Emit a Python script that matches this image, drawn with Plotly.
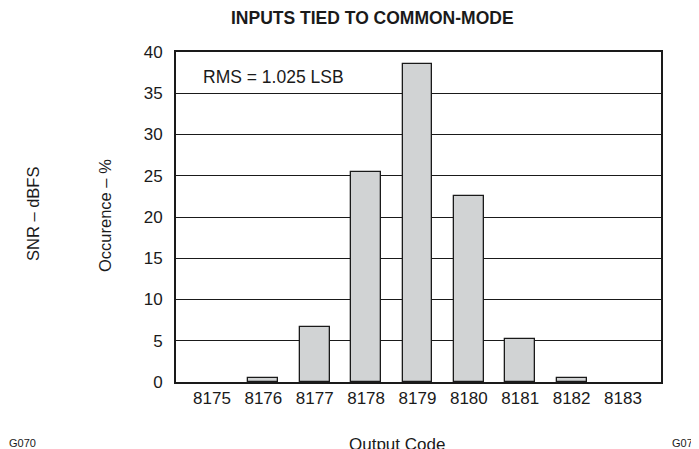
import plotly.graph_objects as go

codes = [8175, 8176, 8177, 8178, 8179, 8180, 8181, 8182, 8183]
occurrence = [0, 0.5, 6.7, 25.4, 38.6, 22.6, 5.2, 0.5, 0]
y_ticks = [0, 5, 10, 15, 20, 25, 30, 35, 40]

FONT = "Liberation Sans, Arial, sans-serif"
W, H = 699, 449
L, R, T, B = 168, 46, 44, 75

fig = go.Figure()
fig.add_trace(go.Bar(
    x=codes, y=occurrence, width=0.58,
    marker=dict(color="#d1d3d4",
                line=dict(color="#1a1a1a", width=[1.3 if v > 0 else 0 for v in occurrence])),
    showlegend=False,
))

fig.update_layout(
    width=W, height=H,
    margin=dict(l=L, r=R, t=T, b=B),
    paper_bgcolor="white", plot_bgcolor="white",
    font=dict(family=FONT, size=17, color="#1a1a1a"),
    bargap=0,
    xaxis=dict(
        range=[8174.3, 8183.74], tickmode="array", tickvals=codes,
        ticktext=[str(c) for c in codes], showgrid=False, zeroline=False,
        showline=True, linecolor="#1a1a1a", linewidth=2, mirror=True,
        ticks="", ticklabelstandoff=0, tickfont=dict(size=17),
    ),
    yaxis=dict(
        range=[0, 40], tickmode="array", tickvals=y_ticks,
        showgrid=True, gridcolor="#1a1a1a", gridwidth=1.2, zeroline=False,
        showline=True, linecolor="#1a1a1a", linewidth=2, mirror=True,
        ticks="", ticklabelstandoff=8, tickfont=dict(size=17),
    ),
)

# positions in figure pixels (from top-left)
anns = [
    dict(text="<b>INPUTS TIED TO COMMON-MODE</b>", x=364, y=10, size=17.5),
    dict(text="RMS = 1.025 LSB", x=265, y=69, size=17.5, bg="white"),
    dict(text="Occurence – %", x=97, y=208, size=16.5, rot=-90),
    dict(text="SNR – dBFS", x=25, y=206, size=16.5, rot=-90),
    dict(text="G070", x=14, y=435, size=11),
    dict(text="Output Code", x=389, y=436, size=17),
    dict(text="G071", x=677, y=435, size=11),
]
for a in anns:
    fig.add_annotation(
        text=a["text"], xref="paper", yref="paper",
        x=(a["x"] - L) / (W - L - R), y=(H - a["y"] - B) / (H - T - B),
        xanchor="center", yanchor="middle", showarrow=False,
        textangle=a.get("rot", 0), bgcolor=a.get("bg", "rgba(0,0,0,0)"),
        font=dict(family=FONT, size=a["size"], color="#1a1a1a"),
    )

fig.write_html("out.html")
